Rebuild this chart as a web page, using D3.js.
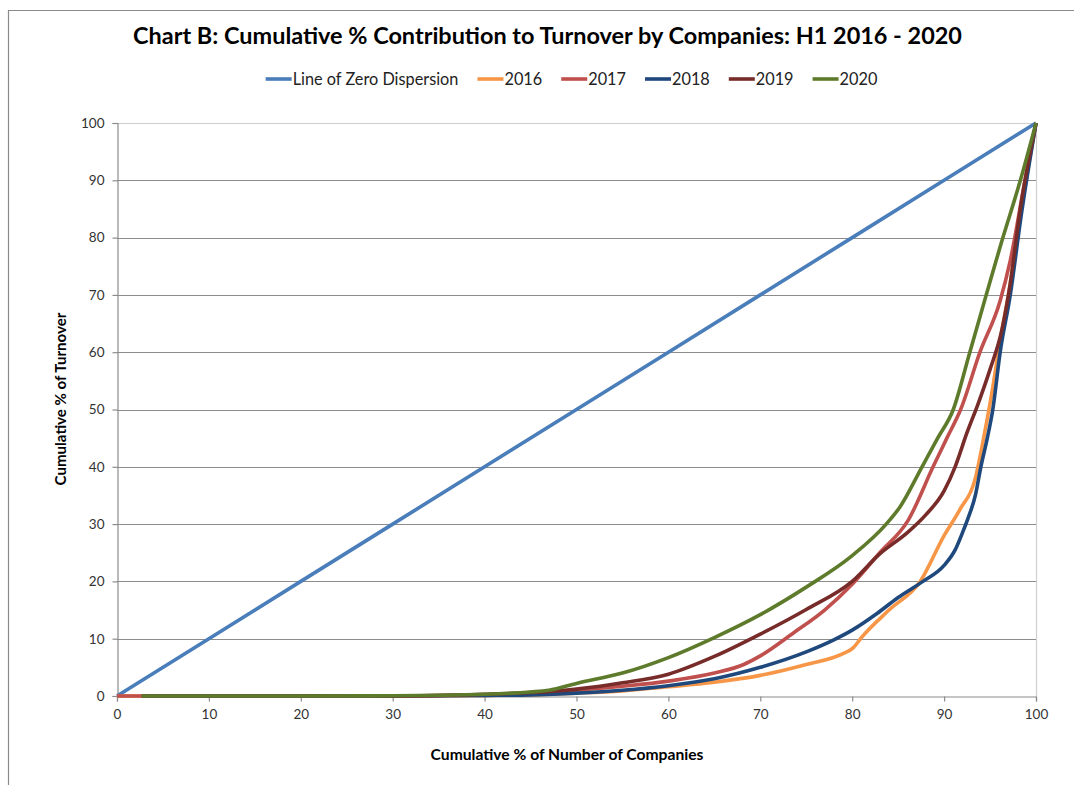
<!DOCTYPE html>
<html>
<head>
<meta charset="utf-8">
<script src="https://cdn.jsdelivr.net/npm/d3@7"></script>
<style>
  body { margin: 0; background: #fff; }
  svg { display: block; }
</style>
</head>
<body>
<svg id="chart" width="1074" height="785"></svg>
<script>
// Cumulative share of companies (x) vs cumulative share of turnover (y), in percent
const seriesNames = ["Line of Zero Dispersion", "2016", "2017", "2018", "2019", "2020"];
const xTickValues = [0, 10, 20, 30, 40, 50, 60, 70, 80, 90, 100];
const yTickValues = [0, 10, 20, 30, 40, 50, 60, 70, 80, 90, 100];

const zeroDispersion = [[0, 0], [10, 10], [20, 20], [30, 30], [40, 40], [50, 50], [60, 60], [70, 70], [80, 80], [90, 90], [100, 100]];

const turnover2016 = [[0, 0], [10, 0], [20, 0], [30, 0], [40, 0.1], [45, 0.2], [50, 0.5], [55, 0.9], [60, 1.6], [65, 2.4], [70, 3.6],
  [75, 5.5], [79, 7.4], [80.1, 8.4], [81, 10.2], [84, 15], [87.4, 20], [90, 28], [91.7, 32.5], [93.4, 38],
  [94.3, 45], [95.1, 52], [96.1, 62], [97.1, 71], [98.4, 85], [100, 100]];

const turnover2017 = [[0, 0], [2.7, 0], [10, 0], [20, 0], [30, 0], [40, 0.2], [45, 0.5], [50, 1.0], [55, 1.7], [60, 2.6], [65, 4.0],
  [68.2, 5.5], [70, 7], [73.6, 11], [77, 15], [80, 19.5], [83, 25], [86.1, 30.7], [88.8, 40], [90.3, 45], [91.8, 50], [93.9, 60],
  [96.1, 69], [97.2, 76], [98.8, 90], [100, 100]];

const turnover2018 = [[2.7, 0], [10, 0], [20, 0], [30, 0], [40, 0.1], [45, 0.2], [50, 0.5], [55, 1.0], [60, 1.8], [65, 3.0], [70, 5.0],
  [75, 7.7], [78, 9.8], [80, 11.5], [82.7, 14.4], [85, 17.2], [87.7, 20], [90, 22.8], [91.2, 25.5], [92.0, 28.5], [92.6, 31],
  [93.4, 35], [94.0, 40], [94.7, 45], [95.3, 50], [96.1, 60], [97.2, 70], [98.4, 84], [100, 100]];

const turnover2019 = [[2.7, 0], [10, 0], [20, 0], [30, 0], [40, 0.3], [45, 0.6], [50, 1.2], [55, 2.3], [60, 3.8], [65, 6.9], [70, 10.8],
  [75, 15.1], [80, 20], [83, 24.8], [86, 28.5], [88, 31.6], [90, 35.8], [91.2, 40], [92.5, 46], [93.7, 51], [95, 57],
  [96.3, 64], [97.2, 72], [98.2, 84], [100, 100]];

const turnover2020 = [[2.7, 0], [10, 0], [20, 0], [30, 0.05], [40, 0.3], [45, 0.7], [47, 1.0], [50, 2.2], [55, 4.0], [60, 6.7],
  [65, 10.2], [70, 14.2], [75, 19], [80, 24.5], [83.7, 30], [85.2, 33], [87.6, 40], [89.3, 45], [91, 50], [92.8, 60],
  [96.4, 80], [98.3, 90], [100, 100]];

const seriesColors = ["#4A7EBB", "#F79646", "#C0504D", "#1F497D", "#772C2A", "#5E7B2C"];
const seriesData = [zeroDispersion, turnover2016, turnover2017, turnover2018, turnover2019, turnover2020];

const svg = d3.select("#chart");
const fontFamily = "Lato, 'Open Sans', 'DejaVu Sans', sans-serif";

// Outer chart frame (left and top edges visible)
svg.append("path")
  .attr("d", "M8.5,785 V10.5 H1074")
  .attr("fill", "none")
  .attr("stroke", "#8a8a8a")
  .attr("stroke-width", 1.2);

const x = d3.scaleLinear().domain([0, 100]).range([117, 1036]);
const y = d3.scaleLinear().domain([0, 100]).range([696, 123]);

// Scale a text element's font size so it spans the given width
function fitWidth(sel, width) {
  const base = parseFloat(sel.attr("font-size"));
  const w = sel.node().getComputedTextLength();
  sel.attr("font-size", base * width / w);
  return sel;
}

// Title
fitWidth(svg.append("text")
  .attr("x", 547.5).attr("y", 44)
  .attr("text-anchor", "middle")
  .attr("font-family", fontFamily)
  .attr("font-weight", "bold")
  .attr("font-size", 21)
  .attr("fill", "#000")
  .text("Chart B: Cumulative % Contribution to Turnover by Companies: H1 2016 - 2020"), 829);

// Gridlines
svg.append("g")
  .selectAll("line")
  .data(yTickValues.filter(v => v > 0 && v < 100))
  .join("line")
  .attr("x1", x(0)).attr("x2", x(100))
  .attr("y1", d => Math.round(y(d)) + 0.5).attr("y2", d => Math.round(y(d)) + 0.5)
  .attr("stroke", "#8c8c8c")
  .attr("stroke-width", 1.2);

// Plot area top and right border
svg.append("path")
  .attr("d", `M${x(0)},${Math.round(y(100)) + 0.5} H${Math.round(x(100)) + 0.5} V${y(0)}`)
  .attr("fill", "none")
  .attr("stroke", "#cfcfcf")
  .attr("stroke-width", 1.2);

// Axes
const xAxis = svg.append("g")
  .attr("transform", `translate(0,${Math.round(y(0)) + 0.5})`)
  .call(d3.axisBottom(x).tickValues(xTickValues).tickSize(5).tickPadding(8));
const yAxis = svg.append("g")
  .attr("transform", `translate(${Math.round(x(0)) + 0.5},0)`)
  .call(d3.axisLeft(y).tickValues(yTickValues).tickSize(5).tickPadding(8));

[xAxis, yAxis].forEach(g => {
  g.select(".domain").attr("stroke", "#8c8c8c").attr("stroke-width", 1.2);
  g.selectAll(".tick line").attr("stroke", "#8c8c8c").attr("stroke-width", 1.2);
  g.selectAll(".tick text")
    .attr("fill", "#333")
    .attr("font-family", fontFamily)
    .attr("font-size", 13.5);
});

// Series lines
const line = d3.line()
  .x(d => x(d[0]))
  .y(d => y(d[1]))
  .curve(d3.curveMonotoneX);

svg.append("g")
  .selectAll("path")
  .data(seriesData)
  .join("path")
  .attr("d", (d, i) => i === 0 ? d3.line().x(p => x(p[0])).y(p => y(p[1]))(d) : line(d))
  .attr("fill", "none")
  .attr("stroke", (d, i) => seriesColors[i])
  .attr("stroke-width", 3.6)
  .attr("stroke-linejoin", "round");

// Legend
const legend = svg.append("g");
const sampleW = 26, gap = 19;
let cursor = 0;
seriesNames.forEach((name, i) => {
  const item = legend.append("g").attr("transform", `translate(${cursor},0)`);
  item.append("line")
    .attr("x1", 0).attr("x2", sampleW)
    .attr("y1", 0).attr("y2", 0)
    .attr("stroke", seriesColors[i])
    .attr("stroke-width", 3.6);
  const t = item.append("text")
    .attr("x", sampleW + 1).attr("y", 5.8)
    .attr("font-family", fontFamily)
    .attr("font-size", 16.3)
    .attr("fill", "#222")
    .text(name);
  cursor += sampleW + 1 + t.node().getComputedTextLength() + gap;
});
const legendWidth = cursor - gap;
legend.attr("transform", `translate(${571.5 - legendWidth / 2},79)`);

// Axis titles
fitWidth(svg.append("text")
  .attr("x", 567).attr("y", 760)
  .attr("text-anchor", "middle")
  .attr("font-family", fontFamily)
  .attr("font-weight", "bold")
  .attr("font-size", 13.5)
  .attr("fill", "#000")
  .text("Cumulative % of Number of Companies"), 273);

fitWidth(svg.append("text")
  .attr("transform", "translate(66,399) rotate(-90)")
  .attr("text-anchor", "middle")
  .attr("font-family", fontFamily)
  .attr("font-weight", "bold")
  .attr("font-size", 13.5)
  .attr("fill", "#000")
  .text("Cumulative % of Turnover"), 173);
</script>
</body>
</html>
